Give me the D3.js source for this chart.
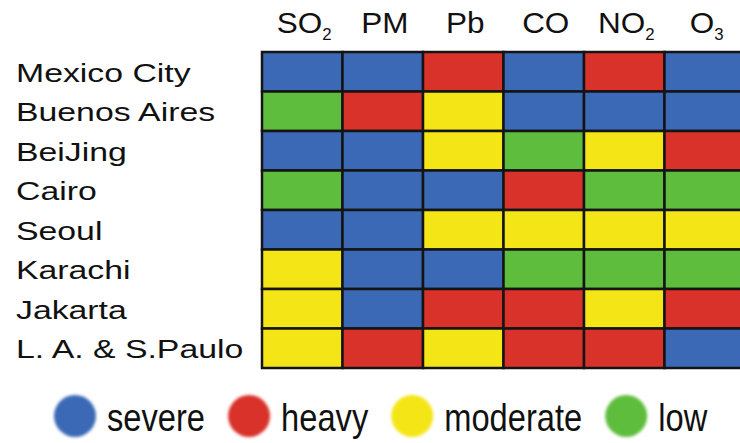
<!DOCTYPE html>
<html>
<head>
<meta charset="utf-8">
<script src="https://cdn.jsdelivr.net/npm/d3@7"></script>
<style>
  body { margin: 0; background: #fff; }
  text { font-family: "Liberation Sans", Arial, sans-serif; fill: #111; }
</style>
</head>
<body>
<div id="vis"></div>
<script>
const cities = ["Mexico City", "Buenos Aires", "BeiJing", "Cairo", "Seoul", "Karachi", "Jakarta", "L. A. & S.Paulo"];
const pollutants = ["SO2", "PM", "Pb", "CO", "NO2", "O3"];
const levels = ["severe", "heavy", "moderate", "low"];
const levelColors = ["#3b69b6", "#d9322a", "#f4e516", "#5fbd3d"];

// one row per city, one entry per pollutant
const ratings = [
    ["severe", "severe", "heavy", "severe", "heavy", "severe"],
    ["low", "heavy", "moderate", "severe", "severe", "severe"],
    ["severe", "severe", "moderate", "low", "moderate", "heavy"],
    ["low", "severe", "severe", "heavy", "low", "low"],
    ["severe", "severe", "moderate", "moderate", "moderate", "moderate"],
    ["moderate", "severe", "severe", "low", "low", "low"],
    ["moderate", "severe", "heavy", "heavy", "moderate", "heavy"],
    ["moderate", "heavy", "moderate", "heavy", "heavy", "severe"]
];

document.addEventListener("DOMContentLoaded", function () {
    const width = 740, height = 443;
    const svg = d3.select("#vis").append("svg")
        .attr("width", width)
        .attr("height", height);

    const x = d3.scaleBand().domain(pollutants).range([262, 745]);
    const y = d3.scaleBand().domain(cities).range([52, 368]);
    const color = d3.scaleOrdinal().domain(levels).range(levelColors);

    const cells = [];
    cities.forEach((c, i) => pollutants.forEach((p, j) => cells.push({ city: c, pol: p, level: ratings[i][j] })));

    svg.append("g").selectAll("rect")
        .data(cells)
        .enter().append("rect")
        .attr("x", d => x(d.pol))
        .attr("y", d => y(d.city))
        .attr("width", x.bandwidth())
        .attr("height", y.bandwidth())
        .attr("fill", d => color(d.level))
        .attr("stroke", "#141414")
        .attr("stroke-width", 2.5);

    // column headers, digits as subscripts
    const head = svg.append("g").selectAll("text")
        .data(pollutants)
        .enter().append("text")
        .attr("text-anchor", "middle")
        .attr("transform", d => `translate(${x(d) + x.bandwidth() / 2 + 2},33) scale(1.05,1)`)
        .style("font-size", "30px");
    head.each(function (d) {
        const t = d3.select(this);
        const m = d.match(/^(\D+)(\d*)$/);
        t.append("tspan").text(m[1]);
        if (m[2]) t.append("tspan").attr("dy", 7).style("font-size", "16px").text(m[2]);
    });

    // row labels
    svg.append("g").selectAll("text")
        .data(cities)
        .enter().append("text")
        .attr("transform", d => `translate(16,${y(d) + y.bandwidth() / 2 + 10}) scale(1.3,1)`)
        .style("font-size", "26px")
        .text(d => d);

    // legend
    const defs = svg.append("defs");
    defs.append("filter").attr("id", "soft")
        .append("feGaussianBlur").attr("stdDeviation", 1.6);

    const legend = svg.append("g");
    let cursor = 53;
    levels.forEach((lv, i) => {
        legend.append("ellipse")
            .attr("cx", cursor + 22)
            .attr("cy", 416)
            .attr("rx", 21)
            .attr("ry", 21)
            .attr("fill", color(lv))
            .attr("filter", "url(#soft)");
        const t = legend.append("text")
            .attr("transform", `translate(${cursor + 54},431) scale(0.86,1)`)
            .style("font-size", "38px")
            .text(lv);
        const w = t.node().getComputedTextLength() * 0.86;
        cursor += 54 + w + 22;
    });
});
</script>
</body>
</html>
